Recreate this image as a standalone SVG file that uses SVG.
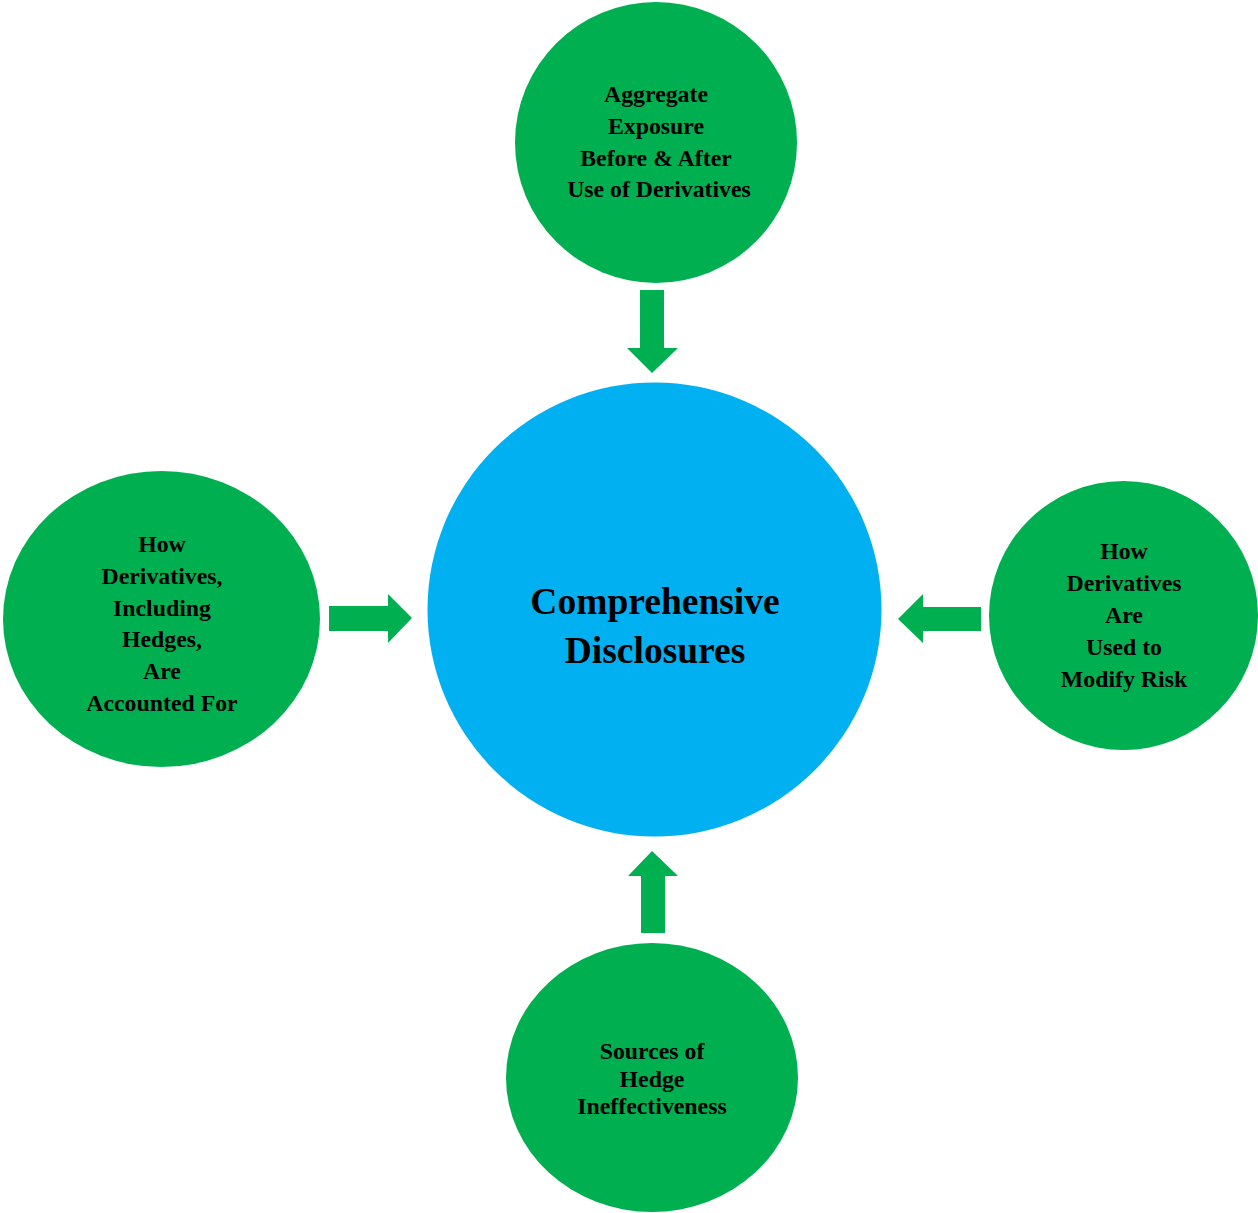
<svg xmlns="http://www.w3.org/2000/svg" width="1258" height="1213" viewBox="0 0 1258 1213">
<style>
.g{fill:#00B050}
.b{fill:#00B0F0}
.t{font-family:"Liberation Serif","Times New Roman",serif;font-weight:bold;font-size:23.8px;fill:#000;text-anchor:middle}
.c{font-family:"Liberation Serif","Times New Roman",serif;font-weight:bold;font-size:37.5px;fill:#000;text-anchor:middle}
</style>
<rect width="1258" height="1213" fill="#fff"/>
<g id="connectors" class="g">
<polygon points="640,290 664,290 664,348 678,348 652,373 627,348 640,348"/>
<polygon points="329,606 388,606 388,594 412,618 388,643 388,631 329,631"/>
<polygon points="981,607 923,607 923,594 898,619 923,643 923,631 981,631"/>
<polygon points="641,933 665,933 665,876 678,876 652,851 628,876 641,876"/>
</g>
<g id="center">
<circle class="b" cx="654.5" cy="609.5" r="227"/>
<text class="c" x="655" y="614">Comprehensive</text>
<text class="c" x="655" y="663">Disclosures</text>
</g>
<g id="top">
<ellipse class="g" cx="656" cy="142.5" rx="141" ry="140.5"/>
<text class="t" x="656" y="102">Aggregate</text>
<text class="t" x="656" y="134">Exposure</text>
<text class="t" x="656" y="166">Before &amp; After</text>
<text class="t" x="659" y="197">Use of Derivatives</text>
</g>
<g id="left">
<ellipse class="g" cx="161.5" cy="619" rx="158.5" ry="148"/>
<text class="t" x="162" y="552">How</text>
<text class="t" x="162" y="584">Derivatives,</text>
<text class="t" x="162" y="616">Including</text>
<text class="t" x="162" y="647">Hedges,</text>
<text class="t" x="162" y="679">Are</text>
<text class="t" x="162" y="711">Accounted For</text>
</g>
<g id="right">
<ellipse class="g" cx="1123.5" cy="615.5" rx="134.5" ry="134.5"/>
<text class="t" x="1124" y="559">How</text>
<text class="t" x="1124" y="591">Derivatives</text>
<text class="t" x="1124" y="623">Are</text>
<text class="t" x="1124" y="655">Used to</text>
<text class="t" x="1124" y="687">Modify Risk</text>
</g>
<g id="bottom">
<ellipse class="g" cx="652" cy="1077.5" rx="146" ry="134.5"/>
<text class="t" x="652" y="1059">Sources of</text>
<text class="t" x="652" y="1087">Hedge</text>
<text class="t" x="652" y="1114">Ineffectiveness</text>
</g>
</svg>
